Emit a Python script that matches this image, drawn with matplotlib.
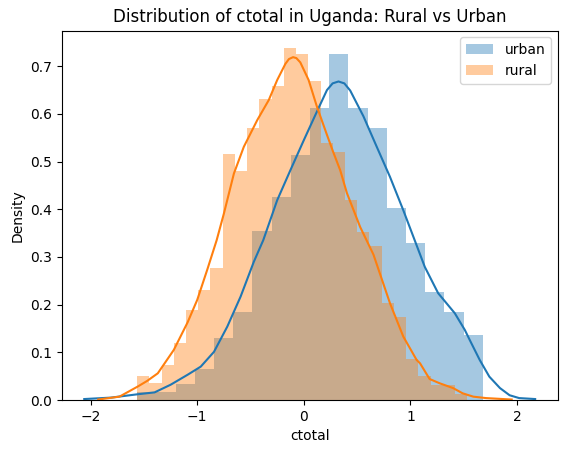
import numpy as np
import matplotlib
matplotlib.use("Agg")
import matplotlib.pyplot as plt

# histogram bins (density)
urban_lo, urban_hi = -1.564, 1.679
urban_heights = [0.017, 0.017, 0.034, 0.065, 0.130, 0.184, 0.354, 0.426, 0.514,
                 0.612, 0.725, 0.612, 0.570, 0.402, 0.329, 0.226, 0.184, 0.136]

rural_lo, rural_hi = -1.564, 1.533
rural_heights = [0.050, 0.036, 0.073, 0.120, 0.189, 0.231, 0.277, 0.516, 0.481,
                 0.570, 0.631, 0.658, 0.738, 0.725, 0.669, 0.539, 0.520, 0.419,
                 0.352, 0.323, 0.203, 0.174, 0.086, 0.050, 0.031, 0.031, 0.012]

# kde curves
urban_kde_x = [-2.06, -1.81, -1.56, -1.40, -1.25, -1.09, -0.967, -0.843, -0.718,
               -0.593, -0.469, -0.381, -0.25, -0.126, 0.0, 0.123, 0.217, 0.27, 0.325,
               0.38, 0.435, 0.559, 0.684, 0.808, 0.933, 1.04, 1.135, 1.26, 1.416, 1.51,
               1.556, 1.65, 1.74, 1.84, 1.93, 2.02, 2.17]
urban_kde_y = [0.002, 0.005, 0.012, 0.016, 0.032, 0.053, 0.070, 0.101, 0.154,
               0.217, 0.290, 0.335, 0.419, 0.482, 0.545, 0.605, 0.650, 0.664, 0.668,
               0.664, 0.649, 0.595, 0.531, 0.468, 0.398, 0.335, 0.279, 0.224, 0.182, 0.147,
               0.126, 0.084, 0.049, 0.025, 0.010, 0.004, 0.002]

rural_kde_x = [-1.93, -1.73, -1.56, -1.47, -1.37, -1.22, -1.09, -1.00, -0.905,
               -0.818, -0.75, -0.656, -0.563, -0.437, -0.329, -0.25, -0.173, -0.14,
               -0.101, -0.07, -0.033, 0.045, 0.123, 0.217, 0.279, 0.341, 0.404, 0.528,
               0.653, 0.808, 0.933, 1.058, 1.09, 1.18, 1.275, 1.40, 1.49, 1.59, 1.71, 1.95]
rural_kde_y = [0.001, 0.007, 0.028, 0.040, 0.056, 0.105, 0.163, 0.210, 0.274,
               0.335, 0.391, 0.475, 0.531, 0.587, 0.629, 0.671, 0.705, 0.715,
               0.719, 0.717, 0.708, 0.671, 0.615, 0.556, 0.518, 0.482, 0.434, 0.363,
               0.305, 0.203, 0.133, 0.084, 0.077, 0.044, 0.035, 0.025, 0.014, 0.007,
               0.004, 0.001]

fig = plt.figure(figsize=(5.67, 4.53), dpi=100)
ax = fig.add_axes([61.7 / 567, 53 / 453, 496 / 567, 369.5 / 453])

for lo, hi, heights, kx, ky, color, label in [
        (urban_lo, urban_hi, urban_heights, urban_kde_x, urban_kde_y, "C0", "urban"),
        (rural_lo, rural_hi, rural_heights, rural_kde_x, rural_kde_y, "C1", "rural")]:
    edges = np.linspace(lo, hi, len(heights) + 1)
    ax.bar(edges[:-1], heights, width=np.diff(edges), align="edge",
           color=color, alpha=0.4, linewidth=0, label=label)
    ax.plot(kx, ky, color=color, lw=1.5)

ax.set_title("Distribution of ctotal in Uganda: Rural vs Urban")
ax.set_xlabel("ctotal")
ax.set_ylabel("Density")
ax.legend(loc="upper right")

fig.savefig("out.png", dpi=100)
